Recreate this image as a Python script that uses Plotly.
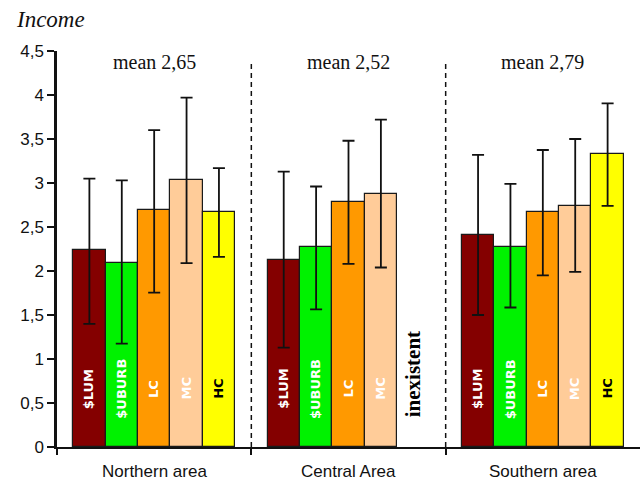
import plotly.graph_objects as go

areas = ["Northern area", "Central Area", "Southern area"]
means = ["mean 2,65", "mean 2,52", "mean 2,79"]
classes = ["$LUM", "$UBURB", "LC", "MC", "HC"]
colors = ["#840000", "#00F200", "#FF9900", "#FFCC99", "#FFFF00"]
label_colors = ["white", "white", "white", "white", "black"]

# values per class, one entry per area (None = inexistent)
values = {
    "$LUM":   [2.235, 2.13, 2.41],
    "$UBURB": [2.09, 2.27, 2.27],
    "LC":     [2.69, 2.78, 2.67],
    "MC":     [3.03, 2.88, 2.74],
    "HC":     [2.665, None, 3.33],
}
err_hi = {
    "$LUM":   [3.05, 3.13, 3.32],
    "$UBURB": [3.03, 2.96, 2.99],
    "LC":     [3.60, 3.48, 3.375],
    "MC":     [3.97, 3.72, 3.50],
    "HC":     [3.17, None, 3.905],
}
err_lo = {
    "$LUM":   [1.40, 1.13, 1.50],
    "$UBURB": [1.175, 1.565, 1.585],
    "LC":     [1.755, 2.08, 1.95],
    "MC":     [2.09, 2.04, 1.99],
    "HC":     [2.16, None, 2.74],
}

slots_per_area = 6  # 5 bars + gap/divider
fig = go.Figure()
annotations = []
for ci, cls in enumerate(classes):
    xs, ys, up, dn = [], [], [], []
    for ai in range(len(areas)):
        v = values[cls][ai]
        if v is None:
            continue
        xs.append(ai * slots_per_area + ci)
        ys.append(v)
        up.append(err_hi[cls][ai] - v)
        dn.append(v - err_lo[cls][ai])
        annotations.append(dict(
            x=ai * slots_per_area + ci, y=0.66, xref="x", yref="y",
            text=f"<b>{cls}</b>", textangle=-90, showarrow=False,
            font=dict(family="DejaVu Sans", size=13, color=label_colors[ci])))
    fig.add_trace(go.Bar(
        x=xs, y=ys, width=1, name=cls,
        marker=dict(color=colors[ci], line=dict(color="#1a1a1a", width=1.2)),
        error_y=dict(type="data", symmetric=False, array=up, arrayminus=dn,
                     color="#111111", thickness=1.8, width=6),
        showlegend=False, hoverinfo="skip"))

# inexistent label for missing HC in Central Area
for ai in range(len(areas)):
    if values["HC"][ai] is None:
        annotations.append(dict(
            x=ai * slots_per_area + 4, y=0.83, xref="x", yref="y",
            text="<b>inexistent</b>", textangle=-90, showarrow=False,
            font=dict(family="Liberation Serif", size=21, color="black")))

# mean labels and area labels
for ai in range(len(areas)):
    cx = ai * slots_per_area + 2
    annotations.append(dict(x=cx, y=4.37, xref="x", yref="y", text=means[ai],
                            showarrow=False,
                            font=dict(family="Liberation Serif", size=20, color="#111")))
    annotations.append(dict(x=cx, y=0, xref="x", yref="paper", yshift=-24,
                            yanchor="middle",
                            text=areas[ai], showarrow=False,
                            font=dict(family="Liberation Sans", size=17, color="#111")))

annotations.append(dict(x=0, y=1, xref="paper", yref="paper", xshift=-43, yshift=46,
                        xanchor="left", yanchor="top", text="<i>Income</i>",
                        showarrow=False,
                        font=dict(family="Liberation Serif", size=23, color="#111")))

shapes = []
for ai in range(1, len(areas)):
    dx = ai * slots_per_area - 1
    shapes.append(dict(type="line", x0=dx, x1=dx, y0=0, y1=4.37, xref="x", yref="y",
                       line=dict(color="#111", width=1.5, dash="5px,4px")))

fig.update_layout(
    width=641, height=485,
    margin=dict(l=57, r=1, t=51, b=38),
    paper_bgcolor="white", plot_bgcolor="white",
    separators=",.",
    bargap=0,
    annotations=annotations,
    shapes=shapes,
    xaxis=dict(range=[-1, 3 * slots_per_area - 1], showgrid=False, zeroline=False,
               showline=True, linecolor="#111", linewidth=2,
               tickvals=[-1, 5, 11], ticktext=["", "", ""], ticks="outside",
               ticklen=6, tickwidth=2, tickcolor="#111"),
    yaxis=dict(range=[0, 4.5], dtick=0.5, showgrid=False, zeroline=False,
               showline=True, linecolor="#111", linewidth=2.5,
               ticks="outside", ticklen=7, tickwidth=2, tickcolor="#111",
               tickfont=dict(family="Liberation Sans", size=17, color="#111")),
)

fig.write_html("out.html", config={"displayModeBar": False},
               post_script="document.body.style.margin='0';document.body.style.overflow='hidden';")
